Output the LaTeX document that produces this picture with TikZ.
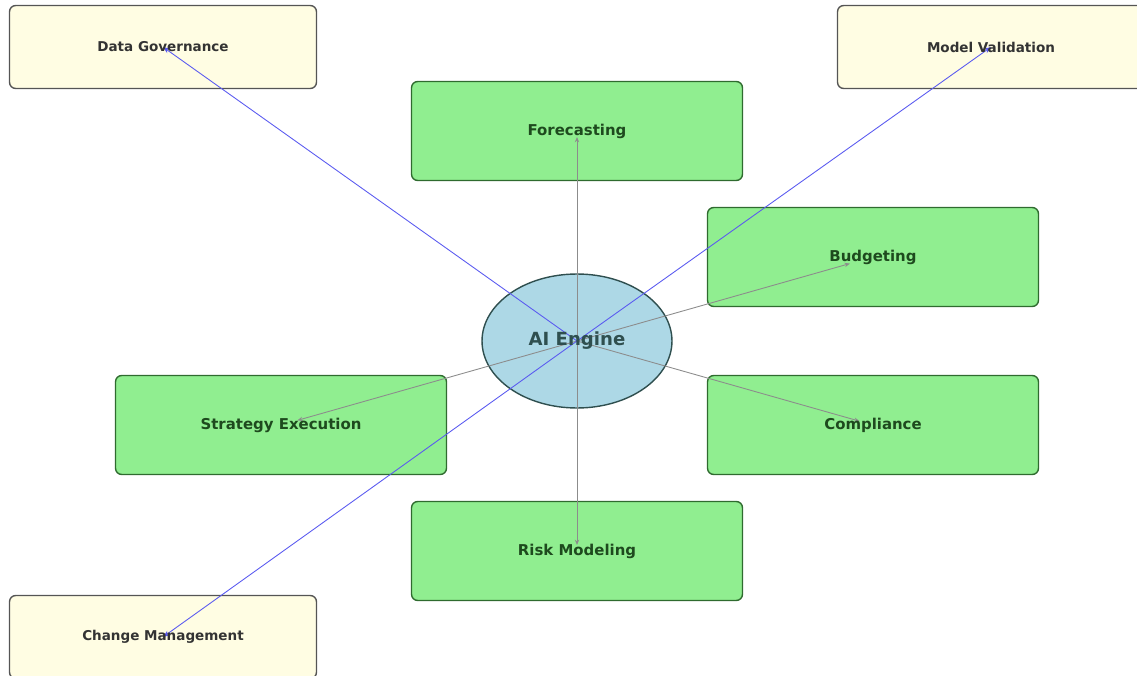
\documentclass[tikz,border=0pt]{standalone}
\usepackage{fontspec}
\setmainfont{DejaVu Sans}
\usetikzlibrary{arrows.meta,shapes.geometric}
\definecolor{boxgreen}{HTML}{90EE90}
\definecolor{edgegreen}{HTML}{2F6B2F}
\definecolor{textgreen}{HTML}{1E4A1E}
\definecolor{boxyellow}{HTML}{FFFDE3}
\definecolor{edgeyellow}{HTML}{555555}
\definecolor{textyellow}{HTML}{333333}
\definecolor{hubblue}{HTML}{ADD8E6}
\definecolor{hubedge}{HTML}{2F4F4F}
\definecolor{linkgray}{HTML}{8C8C8C}
\definecolor{linkblue}{HTML}{5A5AF0}

\begin{document}
\begin{tikzpicture}[x=0.02cm, y=-0.02cm,
  area/.style={draw=edgegreen, fill=boxgreen, line width=0.8pt, rounded corners=3.5pt,
    minimum width=6.62cm, minimum height=1.98cm, inner sep=0pt},
  support/.style={draw=edgeyellow, fill=boxyellow, line width=0.8pt, rounded corners=3.5pt,
    minimum width=6.14cm, minimum height=1.66cm, inner sep=0pt},
  hub/.style={ellipse, draw=hubedge, fill=hubblue, line width=0.8pt,
    minimum width=3.8cm, minimum height=2.68cm, inner sep=0pt},
  arealbl/.style={textgreen, font=\bfseries\fontsize{8.5}{10}\selectfont},
  supportlbl/.style={textyellow, font=\bfseries\fontsize{7.7}{9}\selectfont},
  hublbl/.style={hubedge, font=\bfseries\fontsize{10.3}{12}\selectfont},
  grayarrow/.style={linkgray, line width=0.5pt, -{Stealth[length=3pt,width=2.4pt]}},
  bluearrow/.style={linkblue, line width=0.5pt, -{Stealth[length=4pt,width=3pt]}}]

\useasboundingbox (0,0) rectangle (1137,676);

% --- boxes ---
\node[area] (fc) at (577,131) {};
\node[area] (bud) at (873,257) {};
\node[area] (comp) at (873,425) {};
\node[area] (strat) at (281,425) {};
\node[area] (risk) at (577,551) {};

\node[support] (gov) at (163,47) {};
\node[support] (val) at (991,47) {};
\node[support] (chg) at (163,637) {};

\node[hub] (ai) at (577,341) {};

% --- links from the engine ---
\draw[grayarrow, shorten >=0.12cm] (ai.center) -- (fc.center);
\draw[grayarrow, shorten >=0.12cm] (ai.center) -- (risk.center);
\draw[grayarrow, shorten >=0.48cm] (ai.center) -- (bud.center);
\draw[grayarrow, shorten >=0.28cm] (ai.center) -- (comp.center);
\draw[grayarrow, shorten >=0.34cm] (ai.center) -- (strat.center);

\draw[bluearrow] (ai.center) -- (gov.center);
\draw[bluearrow] (ai.center) -- (val.center);
\draw[bluearrow] (ai.center) -- (chg.center);

% --- labels ---
\node[arealbl] (fc-t) at (fc) {Forecasting};
\node[arealbl] (bud-t) at (bud) {Budgeting};
\node[arealbl] (comp-t) at (comp) {Compliance};
\node[arealbl] (strat-t) at (strat) {Strategy Execution};
\node[arealbl] (risk-t) at (risk) {Risk Modeling};
\node[supportlbl] (gov-t) at (gov) {Data Governance};
\node[supportlbl] (val-t) at (val) {Model Validation};
\node[supportlbl] (chg-t) at (chg) {Change Management};
\node[hublbl] (ai-t) at (ai) {AI Engine};

\end{tikzpicture}
\end{document}
